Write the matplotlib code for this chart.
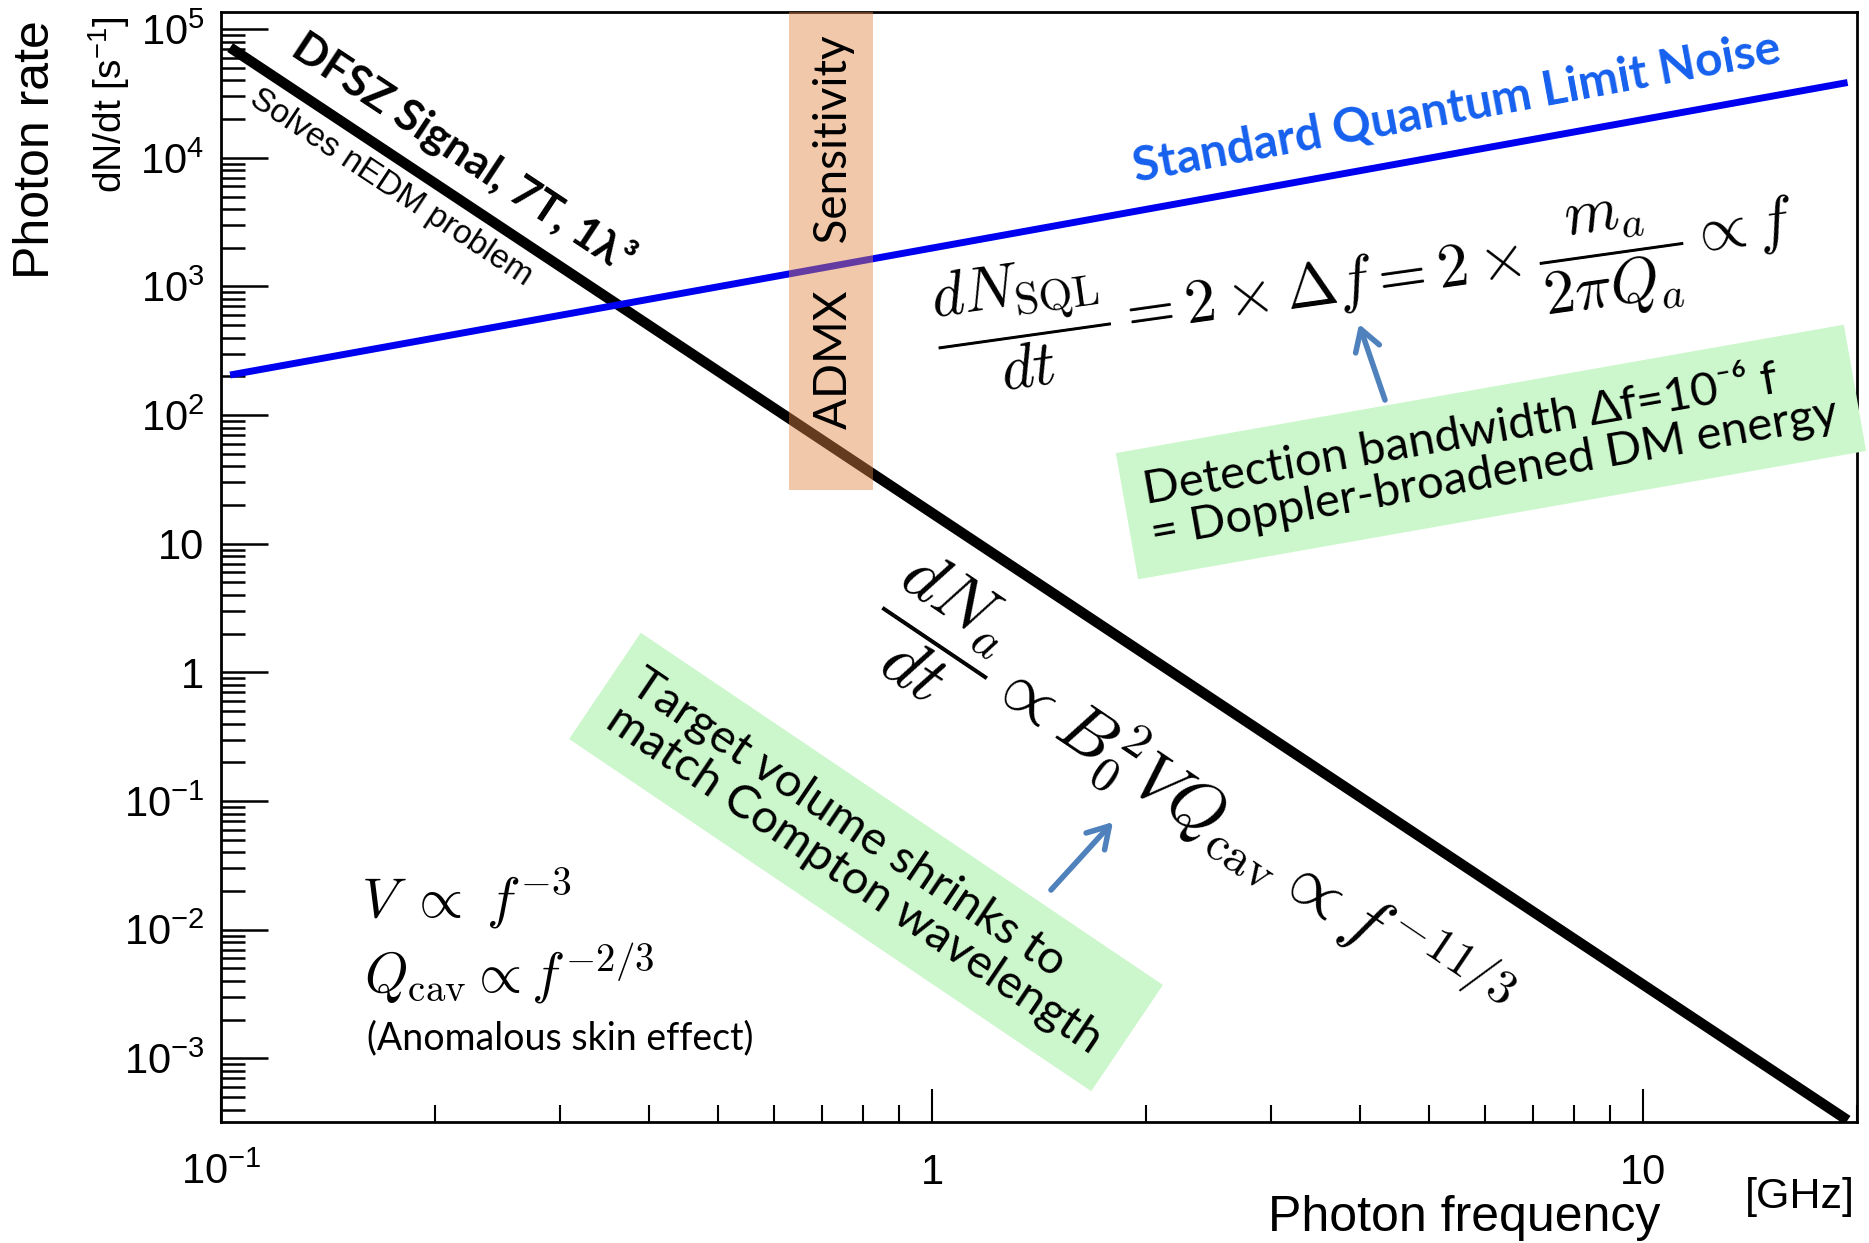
import matplotlib
matplotlib.use("Agg")
import matplotlib.pyplot as plt
from matplotlib import ticker
import numpy as np

W, H = 1869, 1243

# photon rate curves (GHz, photons per second)
freq_ghz = [0.103, 19.4]
dfsz_rate = [7.2e4, 3.3e-4]
sql_rate = [205.0, 3.85e4]

# ADMX sensitivity band
admx_freq = [0.63, 0.826]
admx_floor = 26.0

x_range = (0.1, 20.0)
y_range = (3.2e-4, 1.36e5)

x_ticks = [0.1, 1, 10]
x_ticklabels = [r"$\mathrm{10^{-1}}$", "1", "10"]
y_ticks = [1e-3, 1e-2, 1e-1, 1, 10, 1e2, 1e3, 1e4, 1e5]
y_ticklabels = [r"$\mathrm{10^{-3}}$", r"$\mathrm{10^{-2}}$", r"$\mathrm{10^{-1}}$",
                "1", "10", r"$\mathrm{10^{2}}$", r"$\mathrm{10^{3}}$",
                r"$\mathrm{10^{4}}$", r"$\mathrm{10^{5}}$"]

plt.rcParams["mathtext.fontset"] = "custom"
plt.rcParams["mathtext.rm"] = "Liberation Sans"
plt.rcParams["mathtext.it"] = "Liberation Sans:italic"
plt.rcParams["font.family"] = ["Liberation Sans", "DejaVu Sans"]

SANS = ["Lato", "DejaVu Sans"]
HELV = ["Liberation Sans", "DejaVu Sans"]
GREEN = "#ccf7cc"
ARROW = "#4f81bd"


def fp(x, y):
    # reference pixel -> figure fraction
    return x / W, 1 - y / H


fig = plt.figure(figsize=(W / 100, H / 100), dpi=100)
ax = fig.add_axes([221 / W, 1 - 1122 / H, 1636 / W, 1110 / H])

ax.plot(freq_ghz, dfsz_rate, color="black", lw=7.5, solid_capstyle="butt", zorder=2)
ax.plot(freq_ghz, sql_rate, color="#0000f0", lw=5, solid_capstyle="butt", zorder=2)
ax.fill_between(admx_freq, admx_floor, y_range[1] * 2, color="#e08543",
                alpha=0.45, lw=0, zorder=3)

ax.set_xscale("log")
ax.set_yscale("log")
ax.set_xlim(*x_range)
ax.set_ylim(*y_range)

ax.xaxis.set_major_locator(ticker.FixedLocator(x_ticks))
ax.xaxis.set_major_formatter(ticker.FixedFormatter(x_ticklabels))
ax.yaxis.set_major_locator(ticker.FixedLocator(y_ticks))
ax.yaxis.set_major_formatter(ticker.FixedFormatter(y_ticklabels))
for axis in (ax.xaxis, ax.yaxis):
    axis.set_minor_locator(ticker.LogLocator(base=10, subs=np.arange(2, 10), numticks=100))
    axis.set_minor_formatter(ticker.NullFormatter())

ax.tick_params(axis="y", which="major", direction="in", length=34, width=1.8,
               pad=12, labelsize=30)
ax.tick_params(axis="y", which="minor", direction="in", length=17, width=1.8)
ax.tick_params(axis="x", which="major", direction="in", length=24, width=1.5,
               pad=22, labelsize=30)
ax.tick_params(axis="x", which="minor", direction="in", length=12, width=1.5)
for sp in ax.spines.values():
    sp.set_linewidth(2)

# axis titles
fig.text(*fp(36, 150), "Photon rate", rotation=90, ha="center", va="center",
         fontsize=36, family=HELV)
fig.text(*fp(109, 105), r"dN/dt [s$^{\mathrm{-1}}$]", rotation=90, ha="center",
         va="center", fontsize=28, family=HELV)
fig.text(*fp(1660, 1218), "Photon frequency", ha="right", va="center",
         fontsize=36, family=HELV)
fig.text(*fp(1800, 1197), "[GHz]", ha="center", va="center", fontsize=31,
         family=HELV)

# curve labels
fig.text(*fp(464, 152), "DFSZ Signal, 7T, 1λ³", rotation=-33.5,
         rotation_mode="anchor", ha="center", va="center", fontsize=32,
         fontweight="bold", family=SANS)
fig.text(*fp(391, 188), "Solves nEDM problem", rotation=-33.5,
         rotation_mode="anchor", ha="center", va="center", fontsize=24,
         family=HELV)
fig.text(*fp(1457, 108), "Standard Quantum Limit Noise", rotation=10.5,
         rotation_mode="anchor", ha="center", va="center", fontsize=34.5,
         fontweight="bold", color="#1560ee", family=SANS)
fig.text(*fp(834, 232), "ADMX    Sensitivity", rotation=90,
         rotation_mode="anchor", ha="center", va="center", fontsize=33,
         family=SANS)

# formulas
fig.text(*fp(1365, 283),
         r"$\dfrac{dN_{\rm SQL}}{dt} = 2\times\Delta f = 2\times\dfrac{m_a}{2\pi Q_a}\propto f$",
         rotation=8, rotation_mode="anchor", ha="center", va="center",
         fontsize=45, math_fontfamily="cm")
fig.text(*fp(1193, 806),
         r"$\dfrac{dN_a}{dt}\propto B_0^2 V Q_{\rm cav}\propto f^{-11/3}$",
         rotation=-34, rotation_mode="anchor", ha="center", va="center",
         fontsize=51, math_fontfamily="cm")
fig.text(*fp(361, 918), r"$V\;\propto\; f^{-3}$", ha="left", va="baseline",
         fontsize=41, math_fontfamily="cm")
fig.text(*fp(364, 992), r"$Q_{\rm cav}\propto f^{-2/3}$", ha="left",
         va="baseline", fontsize=40, math_fontfamily="cm")
fig.text(*fp(367, 1049), "(Anomalous skin effect)", ha="left", va="baseline",
         fontsize=27, family=SANS)

# green notes with arrows
fig.text(*fp(1491, 452), "Detection bandwidth Δf=10⁻⁶ f\n= Doppler-broadened DM energy",
         rotation=10, rotation_mode="anchor", ha="center", va="center",
         multialignment="left", fontsize=34, family=SANS, linespacing=1.05,
         bbox=dict(boxstyle="square,pad=0.45", fc=GREEN, ec="none"), zorder=5)
fig.text(*fp(866, 862), "Target volume shrinks to\nmatch Compton wavelength",
         rotation=-34, rotation_mode="anchor", ha="center", va="center",
         multialignment="left", fontsize=34, family=SANS, linespacing=1.05,
         bbox=dict(boxstyle="square,pad=0.45", fc=GREEN, ec="none"), zorder=5)

arrow_style = dict(arrowstyle="->,head_length=0.5,head_width=0.3", color=ARROW,
                   lw=4, mutation_scale=30, shrinkA=0, shrinkB=0)
ax.annotate("", xy=fp(1359, 324), xytext=fp(1385, 400), xycoords="figure fraction",
            textcoords="figure fraction", arrowprops=arrow_style)
ax.annotate("", xy=fp(1113, 822), xytext=fp(1051, 890), xycoords="figure fraction",
            textcoords="figure fraction", arrowprops=arrow_style)

fig.savefig("out.png", dpi=100)
